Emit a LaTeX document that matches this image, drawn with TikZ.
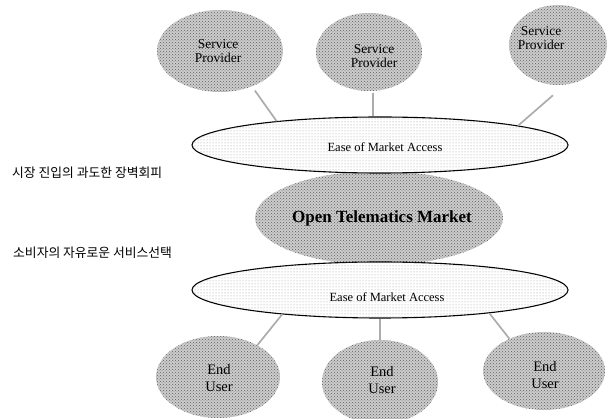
\documentclass[tikz,border=0pt]{standalone}
\usepackage{fontspec}
\setmainfont{Liberation Serif}
\newfontfamily\krfont{Noto Sans CJK KR}
\usetikzlibrary{patterns,shapes.geometric}

\begin{document}
\begin{tikzpicture}[x=1pt,y=-1pt,
  % dense halftone bubbles (providers, users, market)
  darkblob/.style={ellipse, inner sep=0pt, fill=gray!40,
    postaction={pattern=crosshatch dots, pattern color=gray!75!black}},
  % light outlined access layers
  accessband/.style={ellipse, inner sep=0pt, draw=black, line width=1.1pt, fill=white,
    postaction={pattern=dots, pattern color=gray!80}},
  link/.style={draw=gray!65, line width=1.7pt},
  smalltxt/.style={align=center, font=\fontsize{13.5}{14}\selectfont, inner sep=0pt},
  usertxt/.style={align=center, font=\fontsize{14.5}{17}\selectfont, inner sep=0pt},
  bandtxt/.style={font=\fontsize{12.5}{14}\selectfont, inner sep=0pt},
  krtxt/.style={anchor=west, font=\krfont\fontsize{12.8}{14}\selectfont, inner sep=0pt},
]
\useasboundingbox (0,0) rectangle (608,419);

% central market
\node[darkblob, minimum width=248pt, minimum height=94pt] (market) at (379,218) {};
\node[font=\bfseries\fontsize{17}{20}\selectfont, inner sep=0pt] (markettxt)
  at ([shift={(3,0)}]market.center) {Open Telematics Market};

% access layers
\node[accessband, minimum width=376pt, minimum height=56pt] (top) at (380,145) {};
\node[accessband, minimum width=376pt, minimum height=56pt] (bottom) at (380,290) {};
\node[bandtxt] (toptxt) at ([shift={(5,2)}]top.center) {Ease of Market Access};
\node[bandtxt] (bottomtxt) at ([shift={(7,7)}]bottom.center) {Ease of Market Access};

% service providers
\node[darkblob, minimum width=126pt, minimum height=82pt] (sp1) at (220,51) {};
\node[darkblob, minimum width=106pt, minimum height=78pt] (sp2) at (369,52) {};
\node[darkblob, minimum width=98pt, minimum height=80pt] (sp3) at (558,45) {};
\node[smalltxt] (sp1txt) at ([shift={(-2,0)}]sp1.center) {Service\\Provider};
\node[smalltxt] (sp2txt) at ([shift={(5,4)}]sp2.center) {Service\\Provider};
\node[smalltxt] (sp3txt) at ([shift={(-17,-7)}]sp3.center) {Service\\Provider};

% end users
\node[darkblob, minimum width=124pt, minimum height=82pt] (eu1) at (218,377) {};
\node[darkblob, minimum width=116pt, minimum height=84pt] (eu2) at (380,382) {};
\node[darkblob, minimum width=122pt, minimum height=78pt] (eu3) at (544,371) {};
\node[usertxt] (eu1txt) at ([shift={(1,1)}]eu1.center) {End\\User};
\node[usertxt] (eu2txt) at ([shift={(2,-2)}]eu2.center) {End\\User};
\node[usertxt] (eu3txt) at ([shift={(1,4)}]eu3.center) {End\\User};

% connectors
\draw[link, shorten <=5pt] (sp1.-48) -- (top.167.6);
\draw[link, shorten <=2pt] (sp2.-84) -- (sp2.-84 |- top.north);
\draw[link, shorten <=16pt] (sp3.-80) -- (top.8.2);
\draw[link] (bottom.-166.7) -- (eu1.39);
\draw[link] (bottom.south) -- (eu2.north);
\draw[link] (bottom.-12.1) -- (eu3.137.5);

% side remarks
\node[krtxt] (note1) at (12,173) {시장 진입의 과도한 장벽회피};
\node[krtxt] (note2) at (13,253) {소비자의 자유로운 서비스선택};
\end{tikzpicture}
\end{document}
